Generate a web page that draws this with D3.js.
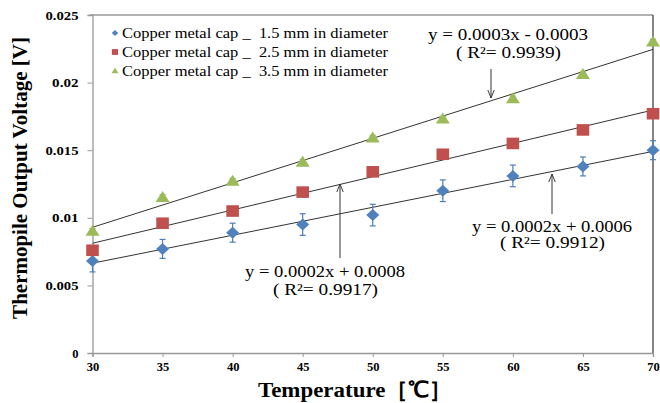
<!DOCTYPE html>
<html><head><meta charset="utf-8">
<script src="https://cdn.jsdelivr.net/npm/d3@7"></script>
<style>body{margin:0;background:#fff}</style>
</head><body>
<svg id="c" width="660" height="403"></svg>
<script>
const temps = [30,35,40,45,50,55,60,65,70];
const cap15 = [0.0068,0.0077,0.0089,0.0095,0.0102,0.0120,0.0131,0.0138,0.0150];
const cap15Err = [0.0008,0.0007,0.0007,0.0008,0.0008,0.0008,0.0008,0.0007,0.0007];
const cap25 = [0.0076,0.0096,0.0105,0.0119,0.0134,0.0147,0.0155,0.0165,0.0177];
const cap35 = [0.0090,0.0115,0.0127,0.0141,0.0159,0.0173,0.0188,0.0206,0.0230];
const cap35Err = [0.0002,0.0002,0.0002,0.0002,0.0002,0.0002,0.0002,0.0002,0.0002];
const seriesNames = ["Copper metal cap _  1.5 mm in diameter","Copper metal cap _  2.5 mm in diameter","Copper metal cap _  3.5 mm in diameter"];
const xTicks = [30,35,40,45,50,55,60,65,70];
const yTicks = [0,0.005,0.01,0.015,0.02,0.025];
const eqLabels = [["y = 0.0002x + 0.0006","( R²= 0.9912)"],["y = 0.0002x + 0.0008","( R²= 0.9917)"],["y = 0.0003x - 0.0003","( R²= 0.9939)"]];

const svg = d3.select("#c");
const L=92.5,R=653,T=15,B=353;
const x = d3.scaleLinear().domain([30,70]).range([L,R]);
const y = d3.scaleLinear().domain([0,0.025]).range([B,T]);
const serif = "'Liberation Serif','Times New Roman',serif";

// frame
svg.append("line").attr("x1",L-3).attr("x2",R).attr("y1",T).attr("y2",T).attr("stroke","#999").attr("stroke-width",1.3);
svg.append("line").attr("x1",R).attr("x2",R).attr("y1",T).attr("y2",B).attr("stroke","#333").attr("stroke-width",1.2);

// axes
const xa = svg.append("g").attr("transform",`translate(0,${B})`)
  .call(d3.axisBottom(x).tickValues(xTicks).tickSize(4).tickFormat(d3.format("d")));
const ya = svg.append("g").attr("transform",`translate(${L},0)`)
  .call(d3.axisLeft(y).tickValues(yTicks).tickSize(5).tickFormat(d=>d===0?"0":String(+d.toFixed(3))));
[xa,ya].forEach(a=>{
  a.select(".domain").attr("stroke","#999").attr("stroke-width",1.3);
  a.selectAll(".tick line").attr("stroke","#999");
  a.selectAll("text").attr("font-family",serif).attr("font-weight","bold").attr("font-size",12.5).attr("fill","#000");
});
xa.selectAll("text").attr("dy","0.9em");
ya.selectAll("text").attr("x",-14).attr("transform",null);
ya.selectAll(".tick text").each(function(){const t=d3.select(this);const s=t.text();
  if(s.length>1) t.attr("textLength",s.length*6.6).attr("lengthAdjust","spacingAndGlyphs");});

// regression lines
function fit(xs,ys){const mx=d3.mean(xs),my=d3.mean(ys);
  let sxy=0,sxx=0;xs.forEach((v,i)=>{sxy+=(v-mx)*(ys[i]-my);sxx+=(v-mx)**2});
  const b=sxy/sxx;return v=>my+b*(v-mx);}
[cap15,cap25,cap35].forEach(s=>{
  const f=fit(temps,s);
  svg.append("line").attr("x1",x(30)).attr("y1",y(f(30))).attr("x2",x(70)).attr("y2",y(f(70)))
    .attr("stroke","#333").attr("stroke-width",1);
});

// error bars
function errBars(vals,errs,col){
  const g=svg.append("g").attr("stroke",col).attr("stroke-width",1.2);
  temps.forEach((t,i)=>{
    const cx=x(t);
    g.append("line").attr("x1",cx).attr("x2",cx).attr("y1",y(vals[i]-errs[i])).attr("y2",y(vals[i]+errs[i]));
    [vals[i]-errs[i],vals[i]+errs[i]].forEach(v=>g.append("line").attr("x1",cx-3).attr("x2",cx+3).attr("y1",y(v)).attr("y2",y(v)));
  });
}
errBars(cap15,cap15Err,"#4a7ebb");
errBars(cap35,cap35Err,"#8fae55");

const colors=["#4f81bd","#c0504d","#9bbb59"];
function shapePath(k,s){
  if(k===0) return `M${-6.5*s},0L0,${-6*s}L${6.5*s},0L0,${6*s}Z`;
  if(k===1) return `M${-6.3*s},${-5.8*s}H${6.3*s}V${5.8*s}H${-6.3*s}Z`;
  return `M${-7*s},${4.5*s}L0,${-6.5*s}L${7*s},${4.5*s}Z`;
}
[cap15,cap25,cap35].forEach((s,k)=>{
  svg.append("g").selectAll("path").data(s).join("path")
    .attr("transform",(d,i)=>`translate(${x(temps[i])},${y(d)})`)
    .attr("d",shapePath(k,1)).attr("fill",colors[k]);
});

// legend
seriesNames.forEach((n,k)=>{
  const yy=33+k*19;
  svg.append("path").attr("transform",`translate(115,${yy})`).attr("d",shapePath(k,0.5)).attr("fill",colors[k]);
  svg.append("text").attr("x",122).attr("y",yy+5).text(n).attr("font-family",serif).attr("font-size",15.5).attr("fill","#000")
    .attr("xml:space","preserve").attr("textLength",266).attr("lengthAdjust","spacingAndGlyphs");
});

// annotations
const defs=svg.append("defs");
defs.append("marker").attr("id","ah").attr("viewBox","0 0 10 10").attr("refX",10).attr("refY",5)
  .attr("markerWidth",8).attr("markerHeight",8).attr("orient","auto-start-reverse")
  .append("path").attr("d","M0,1 L10,5 L0,9").attr("fill","none").attr("stroke","#333").attr("stroke-width",1.2);
function arrow(x1,y1,x2,y2){svg.append("line").attr("x1",x1).attr("y1",y1).attr("x2",x2).attr("y2",y2)
  .attr("stroke","#333").attr("stroke-width",1).attr("marker-end","url(#ah)");}
function eq(lbl,cx,cy,gap){
  svg.append("text").attr("x",cx-80).attr("y",cy).text(lbl[0]).attr("font-family",serif).attr("font-size",16).attr("fill","#000")
    .attr("textLength",160).attr("lengthAdjust","spacingAndGlyphs");
  svg.append("text").attr("x",cx-52).attr("y",cy+gap).text(lbl[1]).attr("font-family",serif).attr("font-size",16).attr("fill","#000")
    .attr("textLength",105).attr("lengthAdjust","spacingAndGlyphs");
}
eq(eqLabels[2],508,40,18); arrow(491,69,491,98);
eq(eqLabels[1],325,277,18); arrow(340,258,340,184);
eq(eqLabels[0],552,232,16); arrow(552,214,552,174);

// axis titles
svg.append("text").attr("transform","translate(27,178) rotate(-90)").attr("text-anchor","middle")
  .text("Thermopile Output Voltage [V]").attr("font-family",serif).attr("font-weight","bold").attr("font-size",21).attr("fill","#000");
svg.append("text").attr("x",258).attr("y",397)
  .text("Temperature［℃］").attr("font-family",serif).attr("font-weight","bold").attr("font-size",22).attr("fill","#000")
  .attr("textLength",194).attr("lengthAdjust","spacingAndGlyphs");
</script>
</body></html>
